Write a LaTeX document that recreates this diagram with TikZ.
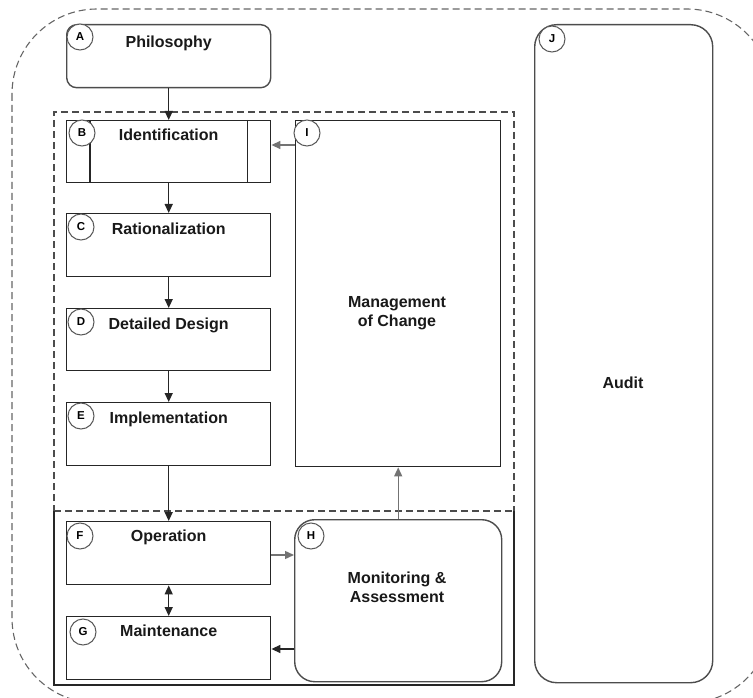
\documentclass[tikz,border=0pt]{standalone}
\usepackage{fontspec}
\setmainfont{Liberation Sans}
\usetikzlibrary{arrows.meta,calc}

\tikzset{
  box/.style={draw=black!85, line width=1.4pt, fill=white, inner sep=0pt, anchor=north west},
  rbox/.style={box, draw=black!70, rounded corners=10pt},
  badge/.style={circle, draw=black!65, fill=white, line width=1pt, minimum size=26pt, inner sep=0pt, font=\fontsize{11.5}{11.5}\selectfont\bfseries},
  title/.style={font=\fontsize{16}{19}\selectfont\bfseries, align=center, text=black!90, inner sep=0pt},
  link/.style={-{Triangle[length=9pt,width=8pt]}, line width=1.4pt, draw=black!85},
  glink/.style={link, draw=black!55},
  zone/.style={dash pattern=on 7pt off 4pt, line width=1.3pt, draw=black!70}
}

\begin{document}
\begin{tikzpicture}[x=1pt, y=-1pt]
        \useasboundingbox (0,0) rectangle (753,698);
        \begin{scope}
            \clip (0,0) rectangle (753,698);
            \draw[zone, line width=1.1pt, draw=black!60, rounded corners=85pt] (12,9) rectangle (772,703);
        \end{scope}
        \draw[zone] (54,512) -- (54,112) -- (514,112) -- (514,512);
        \draw[zone] (54,511) -- (514,511);
        \draw[line width=1.4pt, draw=black!85] (54,511) -- (54,685) -- (514,685) -- (514,511);

        % boxes
        \node[rbox, minimum width=204pt, minimum height=63pt] (A) at (66,24) {};
        \node[box, minimum width=204pt, minimum height=62pt] (B) at (66,120) {};
        \draw[line width=1.4pt, draw=black!85] ([xshift=24pt]B.north west) -- ([xshift=24pt]B.south west);
        \draw[line width=1.4pt, draw=black!85] ([xshift=-24pt]B.north east) -- ([xshift=-24pt]B.south east);
        \node[box, minimum width=204pt, minimum height=63pt] (C) at (66,213) {};
        \node[box, minimum width=204pt, minimum height=62pt] (D) at (66,308) {};
        \node[box, minimum width=204pt, minimum height=63pt] (E) at (66,402) {};
        \node[box, minimum width=204pt, minimum height=63pt] (F) at (66,521) {};
        \node[box, minimum width=204pt, minimum height=63pt] (G) at (66,616) {};
        \node[box, minimum width=205pt, minimum height=346pt] (I) at (295,120) {};
        \node[rbox, rounded corners=20pt, minimum width=207pt, minimum height=162pt] (H) at (294,519) {};
        \node[rbox, rounded corners=22pt, minimum width=178pt, minimum height=658pt] (J) at (534,24) {};

        % titles
        \node[title, anchor=north] (At) at ([yshift=-12pt]A.north) {Philosophy};
        \node[title, anchor=north] (Bt) at ([yshift=-9pt]B.north) {Identification};
        \node[title, anchor=north] (Ct) at ([yshift=-10pt]C.north) {Rationalization};
        \node[title, anchor=north] (Dt) at ([yshift=-10pt]D.north) {Detailed Design};
        \node[title, anchor=north] (Et) at ([yshift=-10pt]E.north) {Implementation};
        \node[title, anchor=north] (Ft) at ([yshift=-9pt]F.north) {Operation};
        \node[title, anchor=north] (Gt) at ([yshift=-9pt]G.north) {Maintenance};
        \node[title] (It) at (397,313) {Management\\of Change};
        \node[title] (Ht) at (397,587) {Monitoring \&\\Assessment};
        \node[title] (Jt) at (623,383) {Audit};

        % badges
        \node[badge] (Ab) at ([shift={(14pt,-13pt)}]A.north west) {A};
        \node[badge] (Bb) at ([shift={(16pt,-13pt)}]B.north west) {B};
        \node[badge] (Cb) at ([shift={(15pt,-14pt)}]C.north west) {C};
        \node[badge] (Db) at ([shift={(15pt,-14pt)}]D.north west) {D};
        \node[badge] (Eb) at ([shift={(15pt,-14pt)}]E.north west) {E};
        \node[badge] (Fb) at ([shift={(14pt,-15pt)}]F.north west) {F};
        \node[badge] (Gb) at ([shift={(17pt,-16pt)}]G.north west) {G};
        \node[badge] (Ib) at ([shift={(12pt,-13pt)}]I.north west) {I};
        \node[badge] (Hb) at ([shift={(17pt,-17pt)}]H.north west) {H};
        \node[badge] (Jb) at ([shift={(18pt,-15pt)}]J.north west) {J};

        % connectors
        \draw[link] (A.south) -- (B.north);
        \draw[link] (B.south) -- (C.north);
        \draw[link] (C.south) -- (D.north);
        \draw[link] (D.south) -- (E.north);
        \draw[link] (E.south) -- (F.north);
        \draw[{Triangle[length=9pt,width=8pt]}-{Triangle[length=9pt,width=8pt]}, line width=1.4pt, draw=black!85] (F.south) -- (G.north);
        \coordinate (ib) at ([yshift=-25pt]I.north west);
        \draw[glink] (ib) -- (ib -| B.east);
        \coordinate (fh) at ([yshift=-34pt]F.north east);
        \draw[glink] (fh) -- (fh -| H.west);
        \coordinate (hg) at ([yshift=-33pt]G.north east);
        \draw[link] (hg -| H.west) -- (hg);
        \draw[glink] (H.north) -- (H.north |- I.south);
    \end{tikzpicture}
\end{document}
